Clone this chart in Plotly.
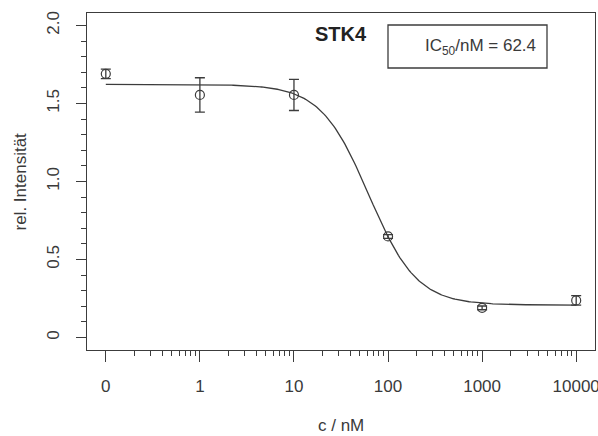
import numpy as np
import plotly.graph_objects as go

# Inhibitor concentrations (nM); 0 nM is shown at the first log position
conc_labels = ["0", "1", "10", "100", "1000", "10000"]
conc_nM = [0, 1, 10, 100, 1000, 10000]
ZERO_POS = 0.1  # axis position used for the 0 nM control

# Mean relative intensity and its error
rel_intensity = [1.69, 1.555, 1.555, 0.648, 0.19, 0.238]
rel_error = [0.03, 0.11, 0.10, 0.012, 0.012, 0.03]

# Four-parameter logistic fit
fit_top = 1.622
fit_bottom = 0.208
fit_ic50 = 62.4
fit_hill = 1.7

x_plot = [c if c > 0 else ZERO_POS for c in conc_nM]

x_fit = np.logspace(np.log10(ZERO_POS), 4, 300)
y_fit = fit_bottom + (fit_top - fit_bottom) / (1 + (x_fit / fit_ic50) ** fit_hill)

LINE = "#3c3c3c"
TEXT = "#3a3a3a"
FONT = "Liberation Sans, Arial, Helvetica, sans-serif"

fig = go.Figure()

fig.add_trace(go.Scatter(
    x=x_fit, y=y_fit, mode="lines",
    line=dict(color=LINE, width=1.3),
    hoverinfo="skip", showlegend=False,
))

fig.add_trace(go.Scatter(
    x=x_plot, y=rel_intensity, mode="markers",
    marker=dict(symbol="circle-open", size=9, color=LINE, line=dict(width=1.2, color=LINE)),
    error_y=dict(type="data", array=rel_error, visible=True,
                 color=LINE, thickness=1.3, width=5),
    showlegend=False,
))

minor_x = [m * 10.0 ** d for d in range(-1, 4) for m in range(2, 10)]
major_x = [c if c > 0 else ZERO_POS for c in conc_nM]

fig.update_xaxes(
    type="log",
    range=[np.log10(ZERO_POS) - 0.2, 4.2],
    tickmode="array", tickvals=major_x, ticktext=conc_labels,
    ticks="outside", ticklen=11, tickwidth=1.3, tickcolor=LINE,
    minor=dict(tickmode="array", tickvals=minor_x, ticks="outside",
               ticklen=5, tickwidth=1.2, tickcolor=LINE, showgrid=False),
    showline=True, linecolor=LINE, linewidth=1.3, mirror=True,
    showgrid=False, zeroline=False,
    tickfont=dict(family=FONT, size=17, color=TEXT),
    ticklabelstandoff=9,
    ticklabeloverflow="allow",
    automargin=False,
)

fig.update_yaxes(
    range=[-0.08, 2.08],
    tickmode="array", tickvals=[0, 0.5, 1.0, 1.5, 2.0],
    ticktext=["0", "0.5", "1.0", "1.5", "2.0"],
    tickangle=-90,
    ticks="outside", ticklen=10, tickwidth=1.3, tickcolor=LINE,
    minor=dict(dtick=0.1, ticks="outside", ticklen=5, tickwidth=1.2,
               tickcolor=LINE, showgrid=False),
    showline=True, linecolor=LINE, linewidth=1.3, mirror=True,
    showgrid=False, zeroline=False,
    tickfont=dict(family=FONT, size=17, color=TEXT),
    ticklabelstandoff=10,
    ticklabeloverflow="allow",
    automargin=False,
)

annotations = [
    dict(text="c / nM", xref="paper", yref="paper", x=0.5, y=0,
         yshift=-75, xanchor="center", yanchor="middle", showarrow=False,
         font=dict(family=FONT, size=17, color=TEXT)),
    dict(text="rel. Intensität", xref="paper", yref="paper", x=0, y=0.5,
         xshift=-67, xanchor="center", yanchor="middle", textangle=-90,
         showarrow=False, font=dict(family=FONT, size=17, color=TEXT)),
    dict(text="<b>STK4</b>", xref="paper", yref="paper", x=0.5, y=1,
         yshift=-21, xanchor="center", yanchor="middle", showarrow=False,
         font=dict(family=FONT, size=20, color="#222")),
    dict(text="IC<sub>50</sub>/nM = %.1f" % fit_ic50, xref="paper", yref="paper",
         x=(547 - 87) / 508, y=1, xshift=-9, yshift=-34,
         xanchor="right", yanchor="middle", showarrow=False,
         font=dict(family=FONT, size=17, color=TEXT)),
]

fig.update_layout(
    width=598, height=436,
    margin=dict(l=87, r=3, t=13, b=86),
    plot_bgcolor="white", paper_bgcolor="white",
    annotations=annotations,
    shapes=[dict(type="rect", xref="paper", yref="paper",
                 x0=(388 - 87) / 508, x1=(547 - 87) / 508,
                 y0=(350 - 68) / 337, y1=(350 - 25) / 337,
                 line=dict(color=LINE, width=1.3))],
)

fig.write_html("out.html")
